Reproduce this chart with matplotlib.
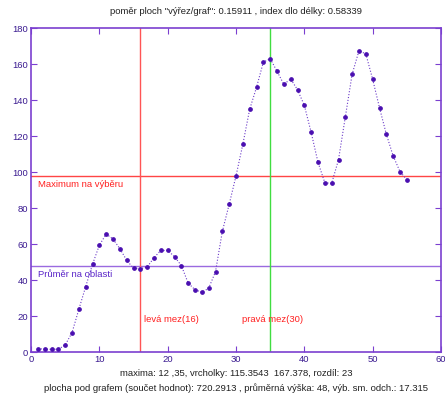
import matplotlib
matplotlib.use("Agg")
import matplotlib.pyplot as plt
import numpy as np

plt.rcParams['font.family'] = ['Liberation Sans', 'DejaVu Sans']

x_vals = list(range(1, 56))
y_vals = [1.9, 1.5, 1.5, 1.5, 3.9, 10.7, 23.7, 36.3, 48.7, 59.3,
          65.5, 62.8, 57.4, 51.0, 46.5, 46.3, 47.2, 52.4, 56.4, 56.4,
          53.0, 48.0, 38.3, 34.6, 33.2, 35.4, 44.6, 67.0, 82.0, 97.8,
          115.4, 134.8, 147.0, 161.0, 163.0, 156.0, 148.7, 151.7, 145.7, 137.0,
          122.0, 105.4, 94.0, 93.7, 106.8, 130.6, 154.4, 167.4, 165.6, 151.5,
          135.7, 121.0, 108.9, 100.2, 95.7]

max_level = 97.8
mean_level = 48
left_bound = 16
right_bound = 35

title_text = 'poměr ploch "výřez/graf": 0.15911 , index dlo délky: 0.58339'
xlabel_line1 = 'maxima: 12 ,35, vrcholky: 115.3543  167.378, rozdíl: 23'
xlabel_line2 = 'plocha pod grafem (součet hodnot): 720.2913 , průměrná výška: 48, výb. sm. odch.: 17.315'

axis_col = '#7b3fd0'
pt_col = '#4a0fb0'
fs = 6.8

fig = plt.figure(figsize=(4.45, 3.96), dpi=100)
ax = fig.add_axes([31/445, 44/396, 410/445, 324/396])

ax.plot(x_vals, y_vals, linestyle=':', color='#6a3ac8', linewidth=0.8, zorder=3)
ax.plot(x_vals, y_vals, linestyle='none', marker='o', markersize=2.4,
        color=pt_col, zorder=4)

ax.axhline(max_level, color='#ff4545', linewidth=1.0, zorder=2)
ax.axhline(mean_level, color='#9a6ae0', linewidth=1.0, zorder=2)
ax.axvline(left_bound, color='#ff5555', linewidth=1.0, zorder=2)
ax.axvline(right_bound, color='#40dd40', linewidth=1.0, zorder=2)

ax.text(1.0, max_level - 2.5, 'Maximum na výběru', color='#ff2020',
        fontsize=fs, va='top', ha='left')
ax.text(1.0, mean_level - 2.5, 'Průměr na oblasti', color='#5a25c8',
        fontsize=fs, va='top', ha='left')
ax.text(left_bound + 0.6, 18, 'levá mez(16)', color='#ff2020',
        fontsize=fs, va='center', ha='left')
ax.text(30.9, 18, 'pravá mez(30)', color='#ff2020',
        fontsize=fs, va='center', ha='left')

ax.set_xlim(0, 60)
ax.set_ylim(0, 180)
ax.set_xticks(np.arange(0, 61, 10))
ax.set_yticks(np.arange(0, 181, 20))
ax.tick_params(direction='in', length=4, width=0.8, color=axis_col,
               labelcolor='#3a1a90', labelsize=fs, top=True, right=True, pad=2)
for s in ax.spines.values():
    s.set_color(axis_col)
    s.set_linewidth(1.2)

cx = 236 / 445
fig.text(cx, 1 - 12/396, title_text, ha='center', va='center',
         fontsize=fs, color='#202020')
fig.text(cx, 1 - 373/396, xlabel_line1, ha='center', va='center',
         fontsize=fs, color='#202020')
fig.text(cx, 1 - 388/396, xlabel_line2, ha='center', va='center',
         fontsize=fs, color='#202020')

fig.savefig('out.png', dpi=100)
